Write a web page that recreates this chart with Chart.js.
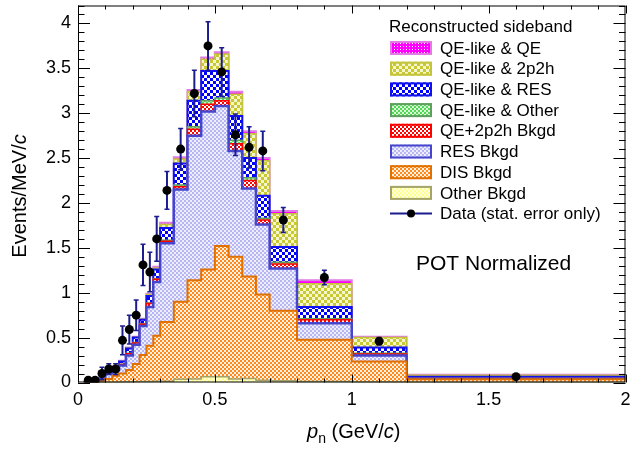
<!DOCTYPE html>
<html>
<head>
<meta charset="utf-8">
<script src="https://cdn.jsdelivr.net/npm/chart.js@4.4.0/dist/chart.umd.min.js"></script>
<style>
  html, body { margin: 0; padding: 0; background: #fff; }
  #wrap { width: 631px; height: 449px; }
</style>
</head>
<body>
<div id="wrap"><canvas id="chart" width="631" height="449"></canvas></div>
<script>
// bin low edges (GeV/c), last entry is the upper edge of the last bin
const binEdges = [0.025, 0.05, 0.075, 0.1, 0.125, 0.15, 0.175, 0.2, 0.225, 0.25, 0.275,
  0.3, 0.35, 0.4, 0.45, 0.5, 0.55, 0.6, 0.65, 0.7, 0.8, 1.0, 1.2, 2.0];

// stack components, bottom to top (Events/MeV/c per bin)
const otherBkgd  = [0, 0, 0.002, 0.003, 0.004, 0.005, 0.006, 0.008, 0.01, 0.012, 0.013, 0.015, 0.035, 0.04, 0.065, 0.065, 0.04, 0.045, 0.025, 0.02, 0.012, 0.005, 0.002];
const disBkgd    = [0.002, 0.005, 0.013, 0.037, 0.071, 0.095, 0.134, 0.197, 0.295, 0.398, 0.507, 0.66, 0.865, 1.10, 1.195, 1.455, 1.36, 1.135, 0.955, 0.78, 0.463, 0.228, 0.033];
const resBkgd    = [0.002, 0.005, 0.02, 0.06, 0.065, 0.09, 0.16, 0.215, 0.325, 0.43, 0.60, 0.875, 1.25, 1.61, 1.76, 1.56, 1.18, 0.98, 0.78, 0.47, 0.185, 0.067, 0.01];
const qe2p2hBkgd = [0, 0.001, 0.003, 0.005, 0.01, 0.01, 0.02, 0.02, 0.02, 0.04, 0.03, 0.025, 0.03, 0.07, 0.08, 0.06, 0.08, 0.09, 0.05, 0.05, 0.04, 0.018, 0.003];
const qeLikeOther = [0, 0, 0.001, 0.001, 0.002, 0.003, 0.005, 0.005, 0.005, 0.005, 0.005, 0.01, 0.02, 0.03, 0.04, 0.03, 0.04, 0.03, 0.02, 0.02, 0.01, 0.007, 0.002];
const qeLikeRes  = [0.001, 0.002, 0.006, 0.012, 0.018, 0.03, 0.055, 0.055, 0.045, 0.08, 0.105, 0.135, 0.24, 0.29, 0.33, 0.30, 0.27, 0.22, 0.25, 0.17, 0.13, 0.065, 0.015];
const qeLike2p2h = [0, 0.001, 0.002, 0.002, 0.004, 0.005, 0.005, 0.005, 0.005, 0.015, 0.015, 0.04, 0.05, 0.10, 0.13, 0.19, 0.24, 0.27, 0.39, 0.37, 0.26, 0.11, 0.015];
const qeLikeQE   = [0, 0.001, 0.001, 0.002, 0.003, 0.004, 0.005, 0.005, 0.005, 0.01, 0.015, 0.02, 0.02, 0.02, 0.02, 0.02, 0.03, 0.03, 0.03, 0.03, 0.04, 0.01, 0.005];

// data (stat. error only)
const dataX   = [0.0375, 0.0625, 0.0875, 0.1125, 0.1375, 0.1625, 0.1875, 0.2125, 0.2375, 0.2625, 0.2875, 0.325, 0.375, 0.425, 0.475, 0.525, 0.575, 0.625, 0.675, 0.75, 0.9, 1.1, 1.6];
const dataY   = [0.025, 0.025, 0.10, 0.15, 0.15, 0.47, 0.59, 0.75, 1.31, 1.23, 1.60, 2.14, 2.60, 3.22, 3.75, 3.46, 2.76, 2.62, 2.58, 1.81, 1.17, 0.46, 0.065];
const dataErr = [0.02, 0.02, 0.07, 0.06, 0.06, 0.16, 0.16, 0.17, 0.23, 0.22, 0.25, 0.21, 0.23, 0.26, 0.27, 0.27, 0.23, 0.23, 0.22, 0.14, 0.08, 0.04, 0.012];

const xTickLabels = [0, 0.5, 1, 1.5, 2];
const yTickLabels = [0, 0.5, 1, 1.5, 2, 2.5, 3, 3.5, 4];

const FONT = '"Liberation Sans", Arial, Helvetica, sans-serif';

// checker / dot fill patterns, like ROOT hatch styles
function checker(fg, bg, cell) {
  const c = document.createElement('canvas');
  c.width = c.height = cell * 2;
  const g = c.getContext('2d');
  g.fillStyle = bg; g.fillRect(0, 0, cell * 2, cell * 2);
  g.fillStyle = fg; g.fillRect(0, 0, cell, cell); g.fillRect(cell, cell, cell, cell);
  return g.createPattern(c, 'repeat');
}
function dots(fg, bg) {
  const c = document.createElement('canvas');
  c.width = c.height = 3;
  const g = c.getContext('2d');
  g.fillStyle = fg; g.fillRect(0, 0, 3, 3);
  g.fillStyle = bg; g.fillRect(1, 1, 1, 1);
  return g.createPattern(c, 'repeat');
}

const components = [
  { label: 'Other Bkgd',       values: otherBkgd,   fill: checker('#ffff8c', '#ffffe0', 2), line: '#a3a36b', width: 1.5 },
  { label: 'DIS Bkgd',         values: disBkgd,     fill: checker('#ff8a1c', '#fff2e4', 2), line: '#e07000', width: 2 },
  { label: 'RES Bkgd',         values: resBkgd,     fill: checker('#b6b6f2', '#eeeeff', 2), line: '#4646cc', width: 2.5 },
  { label: 'QE+2p2h Bkgd',     values: qe2p2hBkgd,  fill: checker('#ff0000', '#ffffff', 2), line: '#ff0000', width: 1.5 },
  { label: 'QE-like & Other',  values: qeLikeOther, fill: checker('#55d855', '#d6f6d6', 2), line: '#5f9f5f', width: 1.5 },
  { label: 'QE-like & RES',    values: qeLikeRes,   fill: checker('#0000ff', '#ffffff', 3), line: '#1010f0', width: 2 },
  { label: 'QE-like & 2p2h',   values: qeLike2p2h,  fill: checker('#c8c832', '#f6f6cc', 3), line: '#c4c43c', width: 1.5 },
  { label: 'QE-like & QE',     values: qeLikeQE,    fill: dots('#ff00ff', '#ffffff'),       line: '#e07ce4', width: 2 }
];

// cumulative stack tops, drawn as stepped lines through bin edges
let running = binEdges.slice(0, -1).map(() => 0);
const histDatasets = components.map((c, k) => {
  running = running.map((v, i) => v + c.values[i]);
  const pts = [{ x: binEdges[0], y: 0 }];
  running.forEach((v, i) => pts.push({ x: binEdges[i], y: v }));
  pts.push({ x: binEdges[binEdges.length - 1], y: running[running.length - 1] });
  return {
    label: c.label,
    data: pts,
    stepped: true,
    fill: k === 0 ? 'origin' : '-1',
    backgroundColor: c.fill,
    borderColor: c.line,
    borderWidth: c.width,
    pointRadius: 0,
    order: 0
  };
});

const errPts = [];
dataX.forEach((x, i) => {
  errPts.push({ x: x, y: dataY[i] - dataErr[i] });
  errPts.push({ x: x, y: dataY[i] + dataErr[i] });
  errPts.push({ x: x, y: null });
});

const errorDataset = {
  label: 'errors',
  data: errPts,
  borderColor: '#1c1c8e',
  borderWidth: 2,
  spanGaps: false,
  pointStyle: 'line',
  pointRadius: 2.5,
  pointBorderColor: '#1c1c8e',
  pointBorderWidth: 1.5,
  fill: false,
  order: -1
};
const pointDataset = {
  label: 'Data (stat. error only)',
  data: dataX.map((x, i) => ({ x: x, y: dataY[i] })),
  showLine: false,
  pointRadius: 4.5,
  pointBackgroundColor: '#000',
  pointBorderColor: '#000',
  pointBorderWidth: 0,
  fill: false,
  order: -2
};

function richText(ctx, parts, x, y, size, align) {
  const fontOf = p => (p.i ? 'italic ' : '') + (p.sub ? size * 0.7 : size) + 'px ' + FONT;
  let total = 0;
  parts.forEach(p => { ctx.font = fontOf(p); total += ctx.measureText(p.t).width; });
  let cx = align === 'center' ? x - total / 2 : x;
  parts.forEach(p => {
    ctx.font = fontOf(p);
    ctx.fillText(p.t, cx, p.sub ? y + size * 0.25 : y);
    cx += ctx.measureText(p.t).width;
  });
}

const framePlugin = {
  id: 'frame',
  afterDatasetsDraw(chart) {
    const { ctx, chartArea: a, scales: { x, y } } = chart;
    ctx.save();
    ctx.strokeStyle = '#000';
    ctx.lineWidth = 1;
    ctx.strokeRect(a.left + 0.5, a.top + 0.5, a.right - a.left - 1, a.bottom - a.top - 1);
    ctx.beginPath();
    for (let k = 0; k <= 20; k++) {
      const px = Math.round(x.getPixelForValue(k / 10)) + 0.5;
      const len = k % 5 === 0 ? 8 : 4;
      ctx.moveTo(px, a.bottom); ctx.lineTo(px, a.bottom - len);
      ctx.moveTo(px, a.top); ctx.lineTo(px, a.top + len);
    }
    for (let k = 0; k <= 42; k++) {
      const py = Math.round(y.getPixelForValue(k / 10)) + 0.5;
      const len = k % 5 === 0 ? 12 : 6.5;
      ctx.moveTo(a.left, py); ctx.lineTo(a.left + len, py);
      ctx.moveTo(a.right, py); ctx.lineTo(a.right - len, py);
    }
    ctx.stroke();
    ctx.restore();
  },
  afterDraw(chart) {
    const { ctx, chartArea: a } = chart;
    ctx.save();
    ctx.fillStyle = '#000';
    ctx.textBaseline = 'alphabetic';
    richText(ctx, [{ t: 'p', i: true }, { t: 'n', sub: true }, { t: ' (GeV/' }, { t: 'c', i: true }, { t: ')' }],
      (a.left + a.right) / 2 + 2, 438, 20, 'center');
    ctx.translate(26, (a.top + a.bottom) / 2 + 2);
    ctx.rotate(-Math.PI / 2);
    richText(ctx, [{ t: 'Events/MeV/' }, { t: 'c', i: true }], 0, 0, 20, 'center');
    ctx.restore();

    // legend
    ctx.save();
    ctx.textBaseline = 'middle';
    ctx.fillStyle = '#000';
    ctx.font = '17px ' + FONT;
    ctx.fillText('Reconstructed sideband', 389, 27);
    const list = components.slice().reverse();
    list.forEach((c, i) => {
      const yc = 48 + i * 20.7;
      ctx.fillStyle = c.fill;
      ctx.fillRect(390, yc - 7, 42, 14);
      ctx.strokeStyle = c.line;
      ctx.lineWidth = 2;
      ctx.strokeRect(391, yc - 6, 40, 12);
      ctx.fillStyle = '#000';
      ctx.fillText(c.label, 440, yc + 1);
    });
    const yd = 48 + list.length * 20.7;
    ctx.strokeStyle = '#1c1c8e';
    ctx.lineWidth = 2;
    ctx.beginPath(); ctx.moveTo(390, yd); ctx.lineTo(432, yd); ctx.stroke();
    ctx.beginPath(); ctx.arc(411, yd, 4, 0, Math.PI * 2); ctx.fillStyle = '#000'; ctx.fill();
    ctx.fillText(pointDataset.label, 440, yd + 1);

    ctx.font = '21px ' + FONT;
    ctx.fillText('POT Normalized', 416, 264);
    ctx.restore();
  }
};

new Chart(document.getElementById('chart'), {
  type: 'line',
  data: { datasets: [...histDatasets, errorDataset, pointDataset] },
  options: {
    responsive: false,
    animation: false,
    events: [],
    layout: { padding: { left: 0, top: 4.5, right: 2, bottom: 0 } },
    plugins: { legend: { display: false }, tooltip: { enabled: false } },
    scales: {
      x: {
        type: 'linear', min: 0, max: 2,
        grid: { display: false, drawTicks: false },
        border: { display: false },
        ticks: { color: '#000', font: { family: FONT, size: 18 }, padding: 7, maxRotation: 0, callback: v => String(v) },
        afterBuildTicks: s => { s.ticks = xTickLabels.map(v => ({ value: v })); },
        afterFit: s => { s.height = 66.5; s.paddingLeft = 0; s.paddingRight = 0; }
      },
      y: {
        type: 'linear', min: 0, max: 4.2,
        grid: { display: false, drawTicks: false },
        border: { display: false },
        ticks: { color: '#000', font: { family: FONT, size: 18 }, padding: 7, callback: v => String(v) },
        afterBuildTicks: s => { s.ticks = yTickLabels.map(v => ({ value: v })); },
        afterFit: s => { s.width = 78; s.paddingTop = 0; s.paddingBottom = 0; }
      }
    }
  },
  plugins: [framePlugin]
});
</script>
</body>
</html>
